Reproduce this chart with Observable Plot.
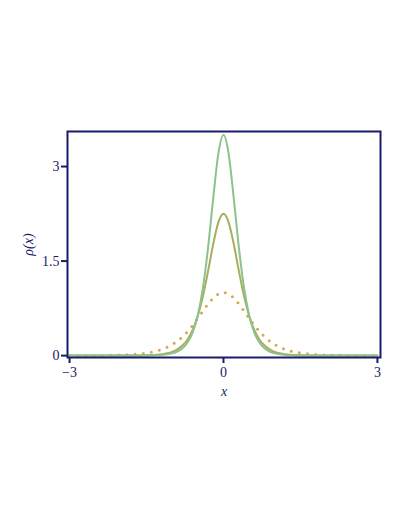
<!DOCTYPE html>
<html><head><meta charset="utf-8">
<script src="https://cdn.jsdelivr.net/npm/d3@7"></script>
<script src="https://cdn.jsdelivr.net/npm/@observablehq/plot@0.6"></script>
<style>
body{margin:0;background:#fff;}
#chart svg{font-family:"Liberation Serif","DejaVu Serif",serif;}
</style>
</head><body><div id="chart"></div>
<script>
// half-profiles sampled at these x (>=0), mirrored for x<0
const xsHalf = [0,0.1,0.2,0.3,0.4,0.5,0.6,0.7,0.8,0.9,1.0,1.1,1.2,1.3,1.4,1.5,1.6,1.7,1.8,1.9,2.0,2.2,2.4,2.6,2.8,3.0];
const greenHalf = [3.5,3.206,2.498,1.715,1.078,0.641,0.369,0.208,0.116,0.0644,0.0356,0.0196,0.0108,0.0059,0.0033,0.0018,0.0010,0.0005,0.0003,0.0002,0.0001,0,0,0,0,0];
const oliveHalf = [2.25,2.115,1.770,1.342,0.945,0.631,0.407,0.256,0.159,0.0978,0.0598,0.0365,0.0222,0.0135,0.0082,0.0050,0.0030,0.0018,0.0011,0.0007,0.0004,0.0002,0.0001,0,0,0];
const dotHalf = [1,0.977,0.913,0.819,0.706,0.591,0.481,0.382,0.299,0.230,0.176,0.133,0.100,0.0749,0.0559,0.0416,0.0309,0.0229,0.0169,0.0125,0.0092,0.0050,0.0027,0.0015,0.0008,0.0004];
const xTicks = [-3,0,3];
const yTicks = [0,1.5,3];
const yTickLabels = ["0","1.5","3"];

function mirror(ys){
  const out=[];
  for(let i=xsHalf.length-1;i>0;i--) out.push({x:-xsHalf[i], y:ys[i]});
  for(let i=0;i<xsHalf.length;i++) out.push({x:xsHalf[i], y:ys[i]});
  return out;
}
const navy = "#1b1b6b";
const chart = Plot.plot({
  width: 409, height: 529,
  marginLeft: 67, marginRight: 29, marginTop: 131, marginBottom: 172,
  style: {fontFamily: "Liberation Serif, serif", fontSize: "14px", color: navy, background: "#fff"},
  x: {domain: [-3.04, 3.06]},
  y: {domain: [-0.03, 3.556]},
  marks: [
    Plot.line(mirror(dotHalf), {x:"x", y:"y", curve:"monotone-x", stroke:"#d5a94c", strokeWidth:3, strokeDasharray:"0 8.2", strokeLinecap:"round"}),
    Plot.line(mirror(oliveHalf), {x:"x", y:"y", curve:"monotone-x", stroke:"#a9ad5c", strokeWidth:2}),
    Plot.line(mirror(greenHalf), {x:"x", y:"y", curve:"monotone-x", stroke:"#8cc28c", strokeWidth:2}),
    Plot.frame({stroke: navy, strokeWidth: 2}),
    Plot.axisX({ticks: xTicks, tickFormat: d => d < 0 ? "\u2212" + Math.abs(d) : String(d), tickSize: 6, tickPadding: 4, stroke: navy, strokeWidth: 2, fill: navy, label: "x", labelAnchor: "center", labelOffset: 38, labelArrow: "none"}),
    Plot.axisY({ticks: yTicks, tickFormat: (d,i) => yTickLabels[yTicks.indexOf(d)], tickSize: 6, tickPadding: 2, stroke: navy, strokeWidth: 2, fill: navy, label: "\u03c1(x)", labelAnchor: "center", labelOffset: 44, labelArrow: "none"})
  ]
});
document.getElementById("chart").appendChild(chart);
d3.select(chart).selectAll('g[aria-label="x-axis label"] text, g[aria-label="y-axis label"] text')
  .style("font-style","italic").attr("fill", navy);
</script>
</body></html>
